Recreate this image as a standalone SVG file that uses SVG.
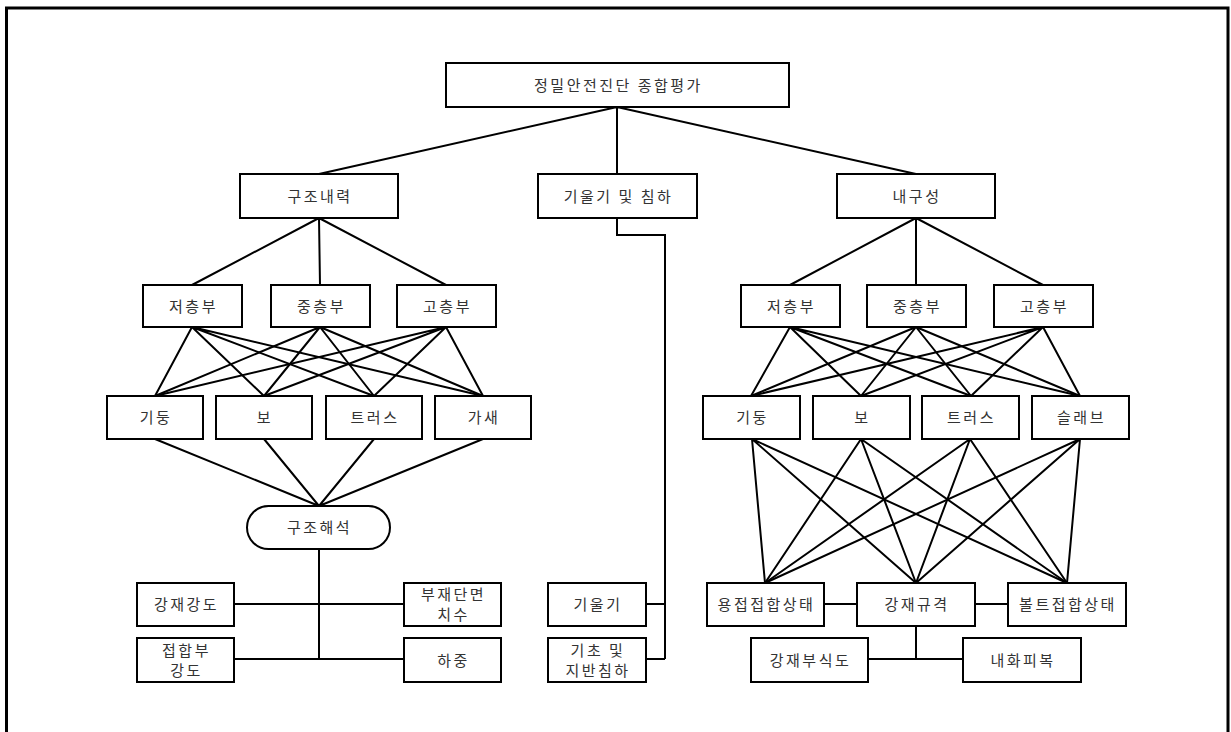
<svg xmlns="http://www.w3.org/2000/svg" width="1231" height="732" viewBox="0 0 1231 732">
<style>
.b{fill:#fff;stroke:#000;stroke-width:2}
.t{font-family:"Noto Sans CJK KR","Noto Sans",sans-serif;font-size:15px;fill:#333;text-anchor:middle;letter-spacing:2.5px}
.c{fill:none;stroke:#000;stroke-width:2}
</style>
<rect width="1231" height="732" fill="#fff"/>
<path d="M6.5,745 V8 H1228 V745" fill="none" stroke="#000" stroke-width="3"/>
<g id="connectors" class="c">
<path d="M617,107 L319,174 M617,107 L617,174 M617,107 L916,174"/>
<path d="M617,218 V235 H665 V659 M646,604 H665 M646,659 H665"/>
<path d="M319,218 L192,285 M319,218 L320,285 M319,218 L446,285"/>
<path d="M192,327 L155,396 M192,327 L264,396 M192,327 L374,396 M192,327 L483,396"/>
<path d="M320,327 L155,396 M320,327 L264,396 M320,327 L374,396 M320,327 L483,396"/>
<path d="M446,327 L155,396 M446,327 L264,396 M446,327 L374,396 M446,327 L483,396"/>
<path d="M155,439 L319,506 M264,439 L319,506 M374,439 L319,506 M483,439 L319,506"/>
<path d="M319,549 V659 M234,604 H404 M234,659 H404"/>
<path d="M916,218 L790,285 M916,218 L916,285 M916,218 L1043,285"/>
<path d="M790,327 L751,396 M790,327 L861,396 M790,327 L971,396 M790,327 L1080,396"/>
<path d="M916,327 L751,396 M916,327 L861,396 M916,327 L971,396 M916,327 L1080,396"/>
<path d="M1043,327 L751,396 M1043,327 L861,396 M1043,327 L971,396 M1043,327 L1080,396"/>
<path d="M752,439 L765,583 M752,439 L916,583 M752,439 L1067,583"/>
<path d="M861,439 L765,583 M861,439 L916,583 M861,439 L1067,583"/>
<path d="M970,439 L765,583 M970,439 L916,583 M970,439 L1067,583"/>
<path d="M1080,439 L765,583 M1080,439 L916,583 M1080,439 L1067,583"/>
<path d="M824,604 H857 M975,604 H1008 M916,626 V659 M868,659 H963"/>
</g>
<g id="n-top"><rect class="b" x="446" y="63" width="343" height="44"/><text class="t" x="618.5" y="90.5">정밀안전진단 종합평가</text></g>
<g id="n-gujo"><rect class="b" x="240" y="174" width="158" height="44"/><text class="t" x="320" y="201.5">구조내력</text></g>
<g id="n-giul"><rect class="b" x="538" y="174" width="159" height="44"/><text class="t" x="618.5" y="201.5">기울기 및 침하</text></g>
<g id="n-naegu"><rect class="b" x="837" y="174" width="158" height="44"/><text class="t" x="917" y="201.5">내구성</text></g>
<g id="n-l-low"><rect class="b" x="143" y="285" width="99" height="42"/><text class="t" x="193.5" y="311.5">저층부</text></g>
<g id="n-l-mid"><rect class="b" x="271" y="285" width="99" height="42"/><text class="t" x="321.5" y="311.5">중층부</text></g>
<g id="n-l-high"><rect class="b" x="397" y="285" width="99" height="42"/><text class="t" x="447.5" y="311.5">고층부</text></g>
<g id="n-l-col"><rect class="b" x="107" y="396" width="96" height="43"/><text class="t" x="156" y="423">기둥</text></g>
<g id="n-l-beam"><rect class="b" x="216" y="396" width="96" height="43"/><text class="t" x="265" y="423">보</text></g>
<g id="n-l-truss"><rect class="b" x="326" y="396" width="96" height="43"/><text class="t" x="375" y="423">트러스</text></g>
<g id="n-l-brace"><rect class="b" x="435" y="396" width="96" height="43"/><text class="t" x="484" y="423">가새</text></g>
<g id="n-analysis"><rect class="b" x="247" y="506" width="143" height="43" rx="21.5" ry="21.5"/><text class="t" x="319.5" y="533">구조해석</text></g>
<g id="n-steel-str"><rect class="b" x="137" y="583" width="97" height="43"/><text class="t" x="186.5" y="610">강재강도</text></g>
<g id="n-section"><rect class="b" x="404" y="583" width="97" height="43"/><text class="t" x="453.5" y="600">부재단면</text><text class="t" x="453.5" y="620">치수</text></g>
<g id="n-joint"><rect class="b" x="137" y="638" width="97" height="44"/><text class="t" x="186.5" y="655.5">접합부</text><text class="t" x="186.5" y="675.5">강도</text></g>
<g id="n-load"><rect class="b" x="404" y="638" width="97" height="44"/><text class="t" x="453.5" y="665.5">하중</text></g>
<g id="n-tilt"><rect class="b" x="548" y="583" width="98" height="43"/><text class="t" x="598" y="610">기울기</text></g>
<g id="n-settle"><rect class="b" x="548" y="638" width="98" height="44"/><text class="t" x="598" y="655.5">기초 및</text><text class="t" x="598" y="675.5">지반침하</text></g>
<g id="n-r-low"><rect class="b" x="741" y="285" width="99" height="42"/><text class="t" x="791.5" y="311.5">저층부</text></g>
<g id="n-r-mid"><rect class="b" x="867" y="285" width="99" height="42"/><text class="t" x="917.5" y="311.5">중층부</text></g>
<g id="n-r-high"><rect class="b" x="994" y="285" width="99" height="42"/><text class="t" x="1044.5" y="311.5">고층부</text></g>
<g id="n-r-col"><rect class="b" x="703" y="396" width="97" height="43"/><text class="t" x="752.5" y="423">기둥</text></g>
<g id="n-r-beam"><rect class="b" x="813" y="396" width="97" height="43"/><text class="t" x="862.5" y="423">보</text></g>
<g id="n-r-truss"><rect class="b" x="922" y="396" width="97" height="43"/><text class="t" x="971.5" y="423">트러스</text></g>
<g id="n-r-slab"><rect class="b" x="1032" y="396" width="97" height="43"/><text class="t" x="1081.5" y="423">슬래브</text></g>
<g id="n-weld"><rect class="b" x="707" y="583" width="117" height="43"/><text class="t" x="766.5" y="610">용접접합상태</text></g>
<g id="n-spec"><rect class="b" x="857" y="583" width="118" height="43"/><text class="t" x="917" y="610">강재규격</text></g>
<g id="n-bolt"><rect class="b" x="1008" y="583" width="118" height="43"/><text class="t" x="1068" y="610">볼트접합상태</text></g>
<g id="n-corr"><rect class="b" x="751" y="638" width="117" height="44"/><text class="t" x="810.5" y="665.5">강재부식도</text></g>
<g id="n-fire"><rect class="b" x="963" y="638" width="118" height="44"/><text class="t" x="1023" y="665.5">내화피복</text></g>
</svg>
